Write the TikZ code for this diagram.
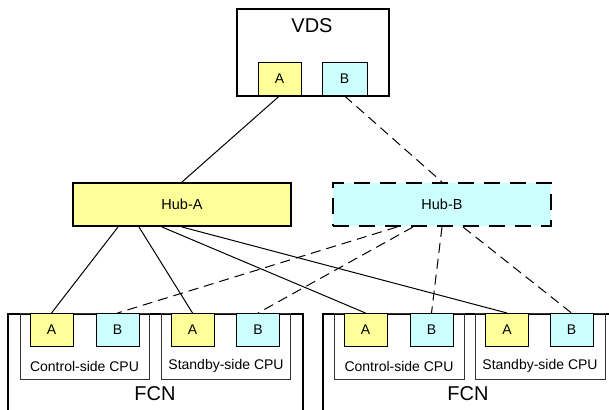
\documentclass[tikz,border=0pt]{standalone}
\usepackage{fontspec}
\setmainfont{Liberation Sans}
\definecolor{ylw}{HTML}{FFFF99}
\definecolor{cyn}{HTML}{CCFFFF}
\begin{document}
\begin{tikzpicture}[x=1pt,y=-1pt,
  bigbox/.style={draw, line width=2pt, inner sep=0pt},
  port/.style={draw, line width=0.9pt, inner sep=0pt, minimum width=43pt, minimum height=33pt, anchor=north, font=\fontsize{14}{14}\selectfont},
  pa/.style={port, fill=ylw},
  pb/.style={port, fill=cyn},
  cpu/.style={draw=black!80, line width=1pt, inner sep=0pt, minimum width=129pt, minimum height=66pt, anchor=north},
  cputext/.style={font=\fontsize{14}{14}\selectfont, inner sep=0pt},
  bigtext/.style={font=\fontsize{20}{20}\selectfont, inner sep=0pt},
  hubtext/.style={font=\fontsize{14.5}{14.5}\selectfont},
  conn/.style={line width=1pt},
  dconn/.style={line width=1pt, dash pattern=on 10pt off 6pt},
]
\useasboundingbox (0,0) rectangle (609,409);
\clip (0,0) rectangle (609,409);
\fill[white] (0,0) rectangle (609,409);

% VDS
\node[bigbox, minimum width=152pt, minimum height=87pt, anchor=north west] (vds) at (236,8) {};
\node[bigtext] (vdst) at (312,26) {VDS};
\node[pa] (vA) at (279.5,62) {A};
\node[pb, minimum width=45pt] (vB) at (344.5,62) {B};

% Hubs
\node[bigbox, fill=ylw, minimum width=218pt, minimum height=43pt, hubtext] (hubA) at (182,204.5) {Hub-A};
\node[bigbox, fill=cyn, dash pattern=on 16pt off 10pt, minimum width=218pt, minimum height=43pt, hubtext] (hubB) at (442,204.5) {Hub-B};

% FCN left
\node[bigbox, minimum width=295pt, minimum height=110pt, anchor=north west] (fcnL) at (7,313) {};
\node[bigtext] (fcnLt) at (155,394) {FCN};
\node[cpu] (cLc) at (84.5,313) {};
\node[cpu] (cLs) at (226,313) {};
\node[cputext] (tLc) at (84.5,366) {Control-side CPU};
\node[cputext] (tLs) at (226,366) {Standby-side CPU};
\node[pa] (lcA) at (51.5,313) {A};
\node[pb] (lcB) at (117.5,313) {B};
\node[pa] (lsA) at (192.5,313) {A};
\node[pb] (lsB) at (258,313) {B};

% FCN right
\node[bigbox, minimum width=292pt, minimum height=110pt, anchor=north west] (fcnR) at (322,313) {};
\node[bigtext] (fcnRt) at (468,394) {FCN};
\node[cpu, minimum width=130pt] (cRc) at (399,313) {};
\node[cpu, minimum width=130pt] (cRs) at (540,313) {};
\node[cputext] (tRc) at (399,366) {Control-side CPU};
\node[cputext] (tRs) at (540,366) {Standby-side CPU};
\node[pa] (rcA) at (365.5,313) {A};
\node[pb] (rcB) at (431.5,313) {B};
\node[pa] (rsA) at (507,313) {A};
\node[pb] (rsB) at (571.5,313) {B};

% connectors
\draw[conn] (vA.south) -- (hubA.north);
\draw[dconn] (vB.south) -- (hubB.north);

\draw[conn] ([xshift=-64pt]hubA.south) -- (lcA.north);
\draw[conn] ([xshift=-43pt]hubA.south) -- (lsA.north);
\draw[conn] ([xshift=-20pt]hubA.south) -- (rcA.north);
\draw[conn] (hubA.south) -- (rsA.north);

\draw[dconn] ([xshift=-45pt]hubB.south) -- (lcB.north);
\draw[dconn] ([xshift=-29pt]hubB.south) -- (lsB.north);
\draw[dconn] (hubB.south) -- (rcB.north);
\draw[dconn] ([xshift=21pt]hubB.south) -- (rsB.north);
\end{tikzpicture}
\end{document}
